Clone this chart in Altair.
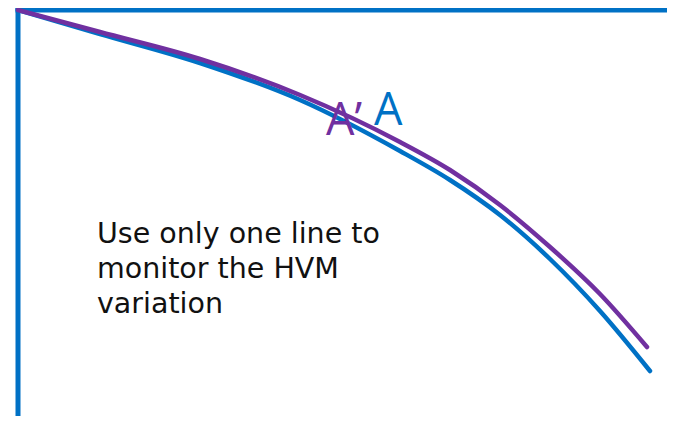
import altair as alt
import pandas as pd

# Curve A (blue) and A' (purple): horizontal position and downward drop from the origin
blue_x = [0, 82, 182, 282, 382, 432, 482, 532, 582, 632]
blue_y = [0, 24, 53, 90, 141, 170, 205, 249, 301, 361]
purple_x = [0, 82, 182, 282, 382, 432, 482, 532, 582, 629]
purple_y = [0, 22, 49, 85, 132, 160, 195, 237, 284, 337]

series_names = ["A", "A'"]
note_lines = ["Use only one line to", "monitor the HVM", "variation"]

BLUE = "#0071C5"
PURPLE = "#7030A0"

df = pd.concat([
    pd.DataFrame({"x": blue_x, "y": blue_y, "s": series_names[0], "o": range(len(blue_x))}),
    pd.DataFrame({"x": purple_x, "y": purple_y, "s": series_names[1], "o": range(len(purple_x))}),
])

xs = alt.Scale(domain=[-10, 649], nice=False, zero=False)
ys = alt.Scale(domain=[-2, 406], nice=False, zero=False, reverse=True)

frame = pd.DataFrame({"x": [-2.5, 0], "x2": [649, 0], "y": [0, -2.5], "y2": [0, 406]})
axes = alt.Chart(frame).mark_rule(color=BLUE, strokeWidth=5).encode(
    x=alt.X("x:Q", scale=xs, axis=None),
    x2="x2:Q",
    y=alt.Y("y:Q", scale=ys, axis=None),
    y2="y2:Q",
)

lines = alt.Chart(df).mark_line(interpolate="monotone", strokeWidth=4.5, strokeCap="round").encode(
    x=alt.X("x:Q", scale=xs, axis=None),
    y=alt.Y("y:Q", scale=ys, axis=None),
    color=alt.Color("s:N", scale=alt.Scale(domain=series_names, range=[BLUE, PURPLE]), legend=None),
    order="o:Q",
    detail="s:N",
)

lbl_purple = alt.Chart(pd.DataFrame({"t": ["A\u2019"]})).mark_text(
    font="Open Sans", fontSize=45, color=PURPLE, align="left", baseline="alphabetic"
).encode(text="t:N", x=alt.value(318), y=alt.value(127))

lbl_blue = alt.Chart(pd.DataFrame({"t": ["A"]})).mark_text(
    font="Open Sans", fontSize=45, color=BLUE, align="left", baseline="alphabetic"
).encode(text="t:N", x=alt.value(366), y=alt.value(117))

note = alt.Chart(pd.DataFrame({"t": ["\n".join(note_lines)]})).mark_text(
    font="DejaVu Sans", fontSize=28.5, color="#111111", align="left", baseline="alphabetic",
    lineBreak="\n", lineHeight=35
).encode(text="t:N", x=alt.value(89), y=alt.value(235))

chart = alt.layer(axes, lines, lbl_purple, lbl_blue, note).properties(
    width=659, height=408, padding=0, autosize=alt.AutoSizeParams(type="none")
).configure_view(stroke=None)

chart.save("out.html", embed_options={"renderer": "svg", "actions": False})
